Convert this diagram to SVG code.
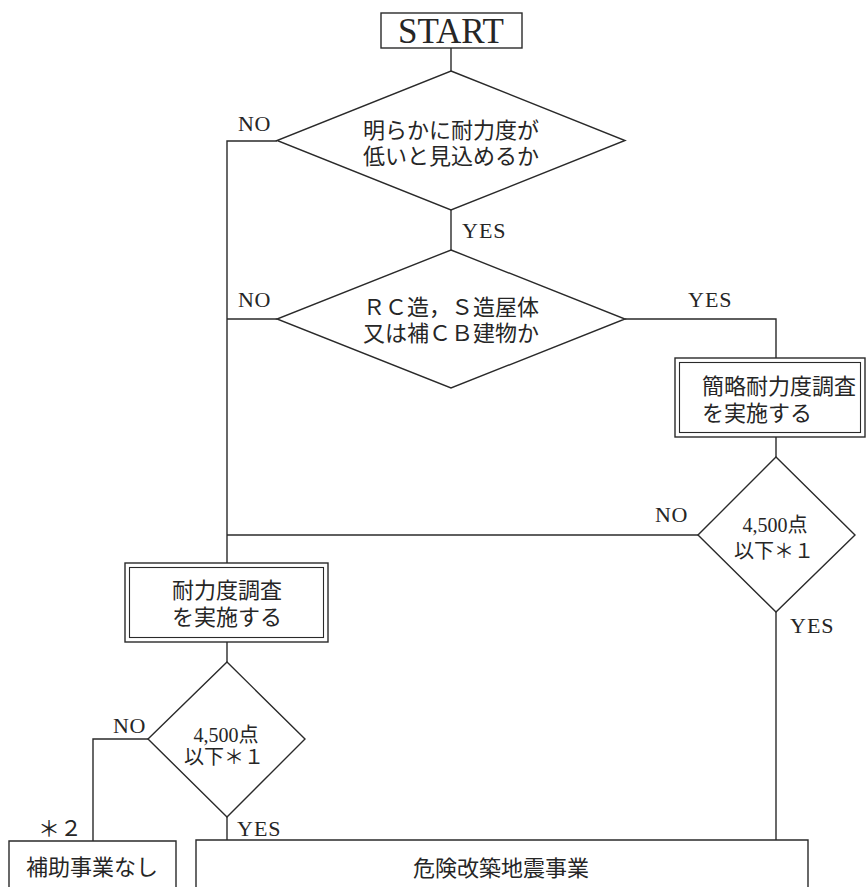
<svg xmlns="http://www.w3.org/2000/svg" width="867" height="887" viewBox="0 0 867 887">
<style>
.s{fill:none;stroke:#2a2a2a;stroke-width:1.4}
.b{fill:#fff;stroke:#2a2a2a;stroke-width:1.4}
.bi{fill:none;stroke:#2a2a2a;stroke-width:1.1}
.j{font-family:"Noto Sans CJK JP","Noto Sans CJK SC",sans-serif;font-size:22px;fill:#262626}
.l{font-family:"Liberation Serif","Noto Sans CJK JP",serif;font-size:22px;fill:#262626}
.n{font-family:"Liberation Serif","Noto Sans CJK JP",serif;font-size:20px;fill:#262626}
</style>
<rect width="867" height="887" fill="#fff"/>
<g id="connectors" class="s">
<path d="M451,48 V71"/>
<path d="M451,210 V250"/>
<path d="M277,141 H227 V563"/>
<path d="M277,319 H227"/>
<path d="M625,319 H776 V358"/>
<path d="M776,437 V457"/>
<path d="M698,535 H227"/>
<path d="M776,612 V840"/>
<path d="M227,642 V662"/>
<path d="M148,739 H93 V841"/>
<path d="M227,817 V840"/>
</g>
<g id="labels">
<text class="l" x="238" y="131" letter-spacing="0.5">NO</text>
<text class="l" x="462" y="238" letter-spacing="1">YES</text>
<text class="l" x="238" y="307" letter-spacing="0.5">NO</text>
<text class="l" x="688" y="307" letter-spacing="1">YES</text>
<text class="l" x="655" y="522" letter-spacing="0.5">NO</text>
<text class="l" x="790" y="633" letter-spacing="1">YES</text>
<text class="l" x="113" y="733" letter-spacing="0.5">NO</text>
<text class="j" x="38" y="836" font-size="20">＊２</text>
<text class="l" x="237" y="836" letter-spacing="1">YES</text>
</g>
<g id="start">
<rect class="b" x="381" y="13" width="141" height="35"/>
<text x="451" y="43" text-anchor="middle" style="font-family:'Liberation Serif',serif;font-size:35px;fill:#262626">START</text>
</g>
<g id="d1">
<polygon class="b" points="451,71 625,140.5 451,210 277,140.5"/>
<text class="j" text-anchor="middle"><tspan x="451" y="138">明らかに耐力度が</tspan><tspan x="451" y="164">低いと見込めるか</tspan></text>
</g>
<g id="d2">
<polygon class="b" points="451,250 625,319 451,388 277,319"/>
<text class="j" text-anchor="middle"><tspan x="451" y="315">ＲＣ造，Ｓ造屋体</tspan><tspan x="451" y="341">又は補ＣＢ建物か</tspan></text>
</g>
<g id="box2">
<rect class="b" x="675" y="358" width="190" height="79"/>
<rect class="bi" x="679.5" y="362.5" width="181" height="70"/>
<text class="j"><tspan x="702" y="394">簡略耐力度調査</tspan><tspan x="702" y="421">を実施する</tspan></text>
</g>
<g id="d3">
<polygon class="b" points="776,457 855,535 776,612 698,535"/>
<text class="n" text-anchor="middle"><tspan x="775" y="532">4,500点</tspan><tspan x="774" y="558">以下＊１</tspan></text>
</g>
<g id="box3">
<rect class="b" x="125" y="563" width="203" height="79"/>
<rect class="bi" x="129.5" y="567.5" width="194" height="70"/>
<text class="j" text-anchor="middle"><tspan x="227" y="598">耐力度調査</tspan><tspan x="227" y="625">を実施する</tspan></text>
</g>
<g id="d4">
<polygon class="b" points="227,662 305,739 227,817 148,739"/>
<text class="n" text-anchor="middle"><tspan x="226" y="742">4,500点</tspan><tspan x="224" y="764">以下＊１</tspan></text>
</g>
<g id="box4">
<path class="b" d="M9,890 V841 H176 V890"/>
<text class="j" x="92" y="875" text-anchor="middle">補助事業なし</text>
</g>
<g id="box5">
<path class="b" d="M196,890 V840 H808 V890"/>
<text class="j" x="501" y="876" text-anchor="middle">危険改築地震事業</text>
</g>
</svg>
